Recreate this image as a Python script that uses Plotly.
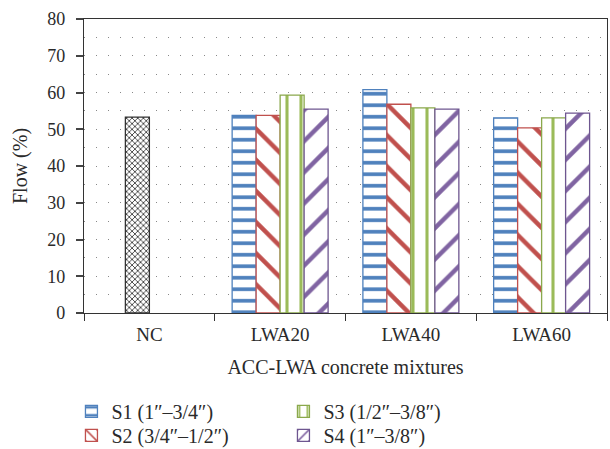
import plotly.graph_objects as go

categories = ["NC", "LWA20", "LWA40", "LWA60"]
groups = ["LWA20", "LWA40", "LWA60"]
nc_value = [53.3]
s1 = [53.8, 60.8, 53.1]
s2 = [53.8, 56.8, 50.4]
s3 = [59.3, 55.8, 53.1]
s4 = [55.5, 55.5, 54.4]
series_names = ["S1 (1\u2033\u20133/4\u2033)", "S2 (3/4\u2033\u20131/2\u2033)",
                "S3 (1/2\u2033\u20133/8\u2033)", "S4 (1\u2033\u20133/8\u2033)"]
y_ticks = [0, 10, 20, 30, 40, 50, 60, 70, 80]

FONT = "Liberation Serif"
TXT = "#2a2a2a"
bw = 0.1835

fig = go.Figure()
fig.add_trace(go.Bar(
    x=["NC"], y=nc_value, name="NC", showlegend=False, opacity=1,
    width=bw, offset=-bw,
    marker=dict(color="white", line=dict(color="#333333", width=1.3),
                pattern=dict(shape="x", fgcolor="#1e1e1e", bgcolor="white",
                             size=4, solidity=0.35, fgopacity=1)),
))

styles = [
    dict(color="#4F81BD", line="#4F81BD", shape="-", size=11.5, solidity=0.32, lg="legend"),
    dict(color="#C0504D", line="#C0504D", shape="\\", size=22, solidity=0.2, lg="legend2"),
    dict(color="#9BBB59", line="#8AA84C", shape="|", size=14, solidity=0.22, lg="legend"),
    dict(color="#8064A2", line="#6E5690", shape="/", size=22, solidity=0.2, lg="legend2"),
]
for i, (vals, name, st) in enumerate(zip([s1, s2, s3, s4], series_names, styles)):
    fig.add_trace(go.Bar(
        x=groups, y=vals, name=name, legend=st["lg"], opacity=1,
        width=bw, offset=-2 * bw + i * bw,
        marker=dict(color="white", line=dict(color=st["line"], width=1.3),
                    pattern=dict(shape=st["shape"], fgcolor=st["color"], bgcolor="white",
                                 size=st["size"], solidity=st["solidity"], fgopacity=1)),
    ))

legend_common = dict(orientation="h", xanchor="left", yanchor="top",
                     entrywidth=167, entrywidthmode="pixels",
                     font=dict(family=FONT, size=20, color=TXT),
                     itemwidth=30, traceorder="normal", bgcolor="rgba(0,0,0,0)")

fig.update_layout(
    width=610, height=449,
    margin=dict(l=84, r=3, t=19, b=136, autoexpand=False),
    barmode="overlay",
    plot_bgcolor="white", paper_bgcolor="white",
    font=dict(family=FONT, size=18, color=TXT),
    showlegend=True,
    legend=dict(x=-0.024, y=-0.268, **legend_common),
    legend2=dict(x=-0.024, y=-0.350, **legend_common),
)
fig.update_xaxes(
    type="category", categoryorder="array", categoryarray=categories,
    range=[-0.5, 3.5], automargin=False,
    showline=True, linecolor="#333333", linewidth=1.3, mirror=True,
    ticks="outside", tickson="boundaries", ticklen=7, tickwidth=1.3, tickcolor="#333333",
    ticklabelstandoff=4,
    tickfont=dict(family=FONT, size=19, color=TXT),
    title=dict(text="ACC-LWA concrete mixtures", font=dict(family=FONT, size=20, color=TXT),
               standoff=16),
    showgrid=False,
)
fig.update_yaxes(
    range=[0, 80], tickvals=y_ticks, automargin=False,
    showline=True, linecolor="#333333", linewidth=1.3, mirror=True,
    ticks="outside", ticklen=7, tickwidth=1.5, tickcolor="#444444",
    ticklabelstandoff=7,
    tickfont=dict(family=FONT, size=18, color=TXT),
    title=dict(text="Flow (%)", font=dict(family=FONT, size=20, color=TXT), standoff=14),
    showgrid=True, gridcolor="#888888", gridwidth=1.2, griddash="1px,11px",
    minor=dict(dtick=5, showgrid=True, gridcolor="#888888", gridwidth=1.2, griddash="1px,11px"),
    zeroline=False,
)

fig.write_html("out.html")
